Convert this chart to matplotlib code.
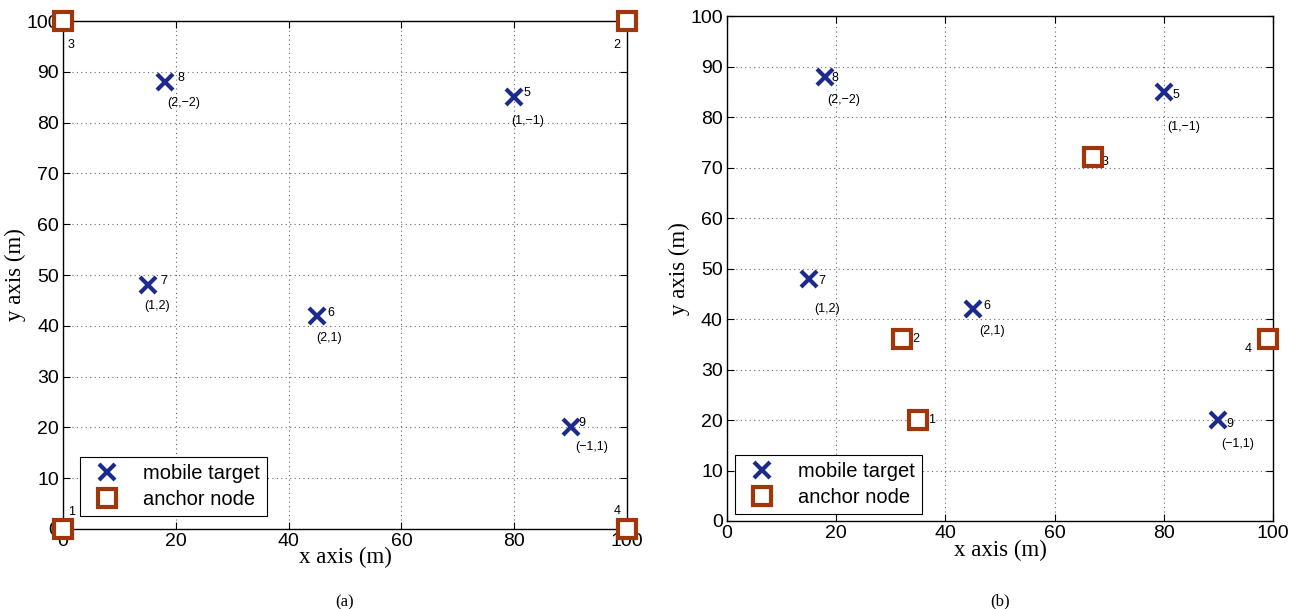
import matplotlib.pyplot as plt
# Two node-layout panels: mobile targets (x) and anchor nodes (squares).

# Data
target_id = ['5', '6', '7', '8', '9']
target_x = [80, 45, 15, 18, 90]
target_y = [85, 42, 48, 88, 20]
target_tag = ['(1,\u22121)', '(2,1)', '(1,2)', '(2,\u22122)', '(\u22121,1)']

anchor_id = ['1', '2', '3', '4']
anchor_x_a = [0, 100, 0, 100]
anchor_y_a = [0, 100, 100, 0]
anchor_x_b = [35, 32, 67, 99]
anchor_y_b = [20, 36, 72, 36]

ticks = [0, 20, 40, 60, 80, 100]
yticks = [0, 10, 20, 30, 40, 50, 60, 70, 80, 90, 100]

blue = '#1b2a8c'
brown = '#a0360a'
sans = ['Liberation Sans', 'DejaVu Sans']
serif = ['Liberation Serif', 'DejaVu Serif']

# label offsets in points (number, coord tag)
num_off_a = [(9, 3), (10, 2), (12, 3), (12, 3), (8, 3)]
tag_off_a = [(10, -17), (9, -16), (7, -15), (14, -15), (15, -14)]
num_off_b = [(9, -2), (10, 2), (9, -2), (7, -1), (8, -3)]
tag_off_b = [(14, -25), (14, -16), (13, -22), (13, -17), (14, -17)]
anc_off_a = [(6, 12), (-7, -17), (6, -17), (-7, 13)]
anc_off_b = [(10, 0), (10, 0), (9, -3), (-14, -7)]

fig = plt.figure(figsize=(12.92, 6.09), dpi=100)
ax1 = fig.add_axes([0.0488, 0.1314, 0.4365, 0.834])
ax2 = fig.add_axes([0.5627, 0.1445, 0.4226, 0.829])

panels = [(ax1, anchor_x_a, anchor_y_a, num_off_a, tag_off_a, anc_off_a, '(a)', (0.03, 0.026), -0.145),
          (ax2, anchor_x_b, anchor_y_b, num_off_b, tag_off_b, anc_off_b, '(b)', (0.014, 0.014), -0.16)]

for ax, ax_x, ax_y, noff, toff, aoff, cap, lpos, cy in panels:
    ax.plot(target_x, target_y, 'x', ms=11, mew=3, color=blue,
            label='mobile target', clip_on=False, zorder=5)
    ax.plot(ax_x, ax_y, 's', ms=13, mew=3, mec=brown, mfc='white',
            label='anchor node', clip_on=False, zorder=5)
    for i in range(len(target_id)):
        ax.annotate(target_id[i], (target_x[i], target_y[i]), xytext=noff[i],
                    textcoords='offset points', fontsize=9, family=sans,
                    ha='center', va='center')
        ax.annotate(target_tag[i], (target_x[i], target_y[i]), xytext=toff[i],
                    textcoords='offset points', fontsize=9, family=sans,
                    ha='center', va='center')
    for i in range(len(anchor_id)):
        ax.annotate(anchor_id[i], (ax_x[i], ax_y[i]), xytext=aoff[i],
                    textcoords='offset points', fontsize=9, family=sans,
                    ha='center', va='center')

    ax.set_xlim(0, 100)
    ax.set_ylim(0, 100)
    ax.set_xticks(ticks)
    ax.set_yticks(yticks)
    ax.tick_params(direction='in', length=5, top=True, right=True,
                   labelsize=14, pad=3)
    for lab in ax.get_xticklabels() + ax.get_yticklabels():
        lab.set_family(sans)
    ax.grid(True, color='#666666', linestyle=(0, (1, 3)), linewidth=0.8)
    for s in ax.spines.values():
        s.set_linewidth(1.0)
    ax.set_xlabel('x axis (m)', family=serif, fontsize=16.5, labelpad=-2)
    ax.set_ylabel('y axis (m)', family=serif, fontsize=16.5, labelpad=0)
    leg = ax.legend(loc='lower left', bbox_to_anchor=lpos,
                    prop={'family': sans, 'size': 14.5}, fancybox=False,
                    framealpha=1, edgecolor='black', handletextpad=0.8,
                    borderpad=0.35, labelspacing=0.35, borderaxespad=0)
    leg.get_frame().set_linewidth(0.8)
    ax.text(0.5, cy, cap, transform=ax.transAxes,
            ha='center', va='center', family=serif, fontsize=12)

plt.savefig('out.png', dpi=100)
